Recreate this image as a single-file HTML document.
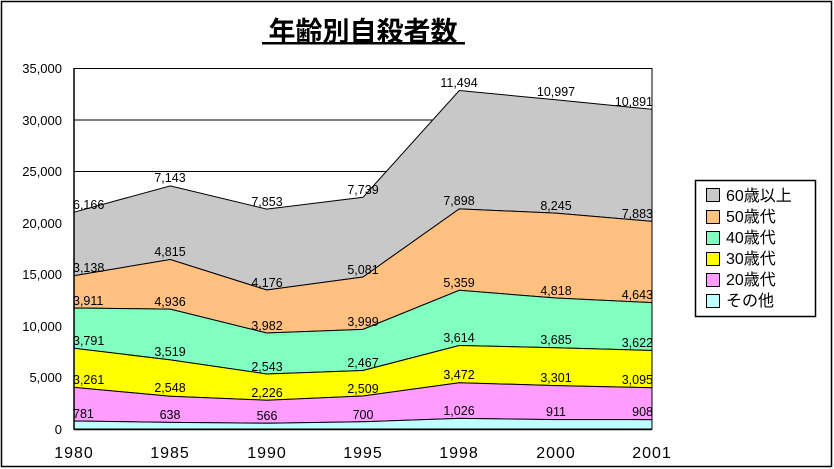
<!DOCTYPE html>
<html><head><meta charset="utf-8"><style>
body{margin:0;background:#fff}
svg{display:block}
text{font-family:"Liberation Sans","Noto Sans CJK JP",sans-serif}
</style></head><body>
<svg width="834" height="469" viewBox="0 0 834 469">
<rect x="1.5" y="1.5" width="830" height="465" fill="#fff" stroke="#000" stroke-width="1.5"/>
<text x="363" y="41" font-size="27" font-weight="bold" text-anchor="middle" font-family="'Noto Sans CJK JP',sans-serif">年齢別自殺者数</text>
<rect x="262" y="42" width="203" height="2.5" fill="#000"/>
<g stroke="#000" stroke-width="1">
<line x1="74" y1="68.5" x2="652" y2="68.5"/>
<line x1="74" y1="120" x2="652" y2="120"/>
<line x1="74" y1="171.5" x2="652" y2="171.5"/>
</g>
<g stroke="#000" stroke-width="1">
<polygon fill="#c8c8c8" points="74,212.2 170.3,185.9 266.7,209.1 363,197.3 459.3,90.5 555.7,99.8 652,109.3 652,221.4 555.7,213.1 459.3,208.9 363,277 266.7,290 170.3,259.5 74,275.7"/>
<polygon fill="#ffc080" points="74,275.7 170.3,259.5 266.7,290 363,277 459.3,208.9 555.7,213.1 652,221.4 652,302.6 555.7,298 459.3,290.3 363,329.4 266.7,333 170.3,309.1 74,308"/>
<polygon fill="#80ffc0" points="74,308 170.3,309.1 266.7,333 363,329.4 459.3,290.3 555.7,298 652,302.6 652,350.5 555.7,347.7 459.3,345.5 363,370.5 266.7,374 170.3,359.9 74,348.3"/>
<polygon fill="#ffff00" points="74,348.3 170.3,359.9 266.7,374 363,370.5 459.3,345.5 555.7,347.7 652,350.5 652,387.8 555.7,385.6 459.3,382.7 363,396 266.7,400.2 170.3,396.2 74,387.4"/>
<polygon fill="#ff9cff" points="74,387.4 170.3,396.2 266.7,400.2 363,396 459.3,382.7 555.7,385.6 652,387.8 652,419.7 555.7,419.6 459.3,418.4 363,421.8 266.7,423.2 170.3,422.4 74,421"/>
<polygon fill="#c0ffff" points="74,421 170.3,422.4 266.7,423.2 363,421.8 459.3,418.4 555.7,419.6 652,419.7 652,429 74,429"/>
</g>
<line x1="74" y1="68" x2="74" y2="429.5" stroke="#000" stroke-width="1.5"/>
<line x1="74" y1="429.5" x2="652" y2="429.5" stroke="#000" stroke-width="1.5"/>
<line x1="652" y1="68" x2="652" y2="429.5" stroke="#000" stroke-width="1"/>
<g font-size="13" text-anchor="end" fill="#000">
<text x="62" y="73">35,000</text><text x="62" y="125">30,000</text><text x="62" y="176">25,000</text>
<text x="62" y="228">20,000</text><text x="62" y="279">15,000</text><text x="62" y="331">10,000</text>
<text x="62" y="382">5,000</text><text x="62" y="434">0</text>
</g>
<g font-size="16" text-anchor="middle" letter-spacing="1">
<text x="74" y="458">1980</text><text x="170" y="458">1985</text><text x="267" y="458">1990</text>
<text x="363" y="458">1995</text><text x="459" y="458">1998</text><text x="556" y="458">2000</text><text x="652" y="458">2001</text>
</g>
<g font-size="12.5" fill="#000">
<g text-anchor="start">
<text x="73" y="209">6,166</text><text x="73" y="272">3,138</text><text x="73" y="305">3,911</text>
<text x="73" y="345">3,791</text><text x="73" y="384">3,261</text><text x="73" y="418">781</text>
</g>
<g text-anchor="middle">
<text x="170" y="182">7,143</text><text x="170" y="256">4,815</text><text x="170" y="306">4,936</text><text x="170" y="356">3,519</text><text x="170" y="392">2,548</text><text x="170" y="419">638</text>
<text x="267" y="206">7,853</text><text x="267" y="287">4,176</text><text x="267" y="330">3,982</text><text x="267" y="371">2,543</text><text x="267" y="397">2,226</text><text x="267" y="420">566</text>
<text x="363" y="194">7,739</text><text x="363" y="274">5,081</text><text x="363" y="326">3,999</text><text x="363" y="367">2,467</text><text x="363" y="393">2,509</text><text x="363" y="419">700</text>
<text x="459" y="87">11,494</text><text x="459" y="205">7,898</text><text x="459" y="287">5,359</text><text x="459" y="342">3,614</text><text x="459" y="379">3,472</text><text x="459" y="415">1,026</text>
<text x="556" y="96">10,997</text><text x="556" y="210">8,245</text><text x="556" y="295">4,818</text><text x="556" y="344">3,685</text><text x="556" y="382">3,301</text><text x="556" y="416">911</text>
</g>
<g text-anchor="end">
<text x="653" y="106">10,891</text><text x="653" y="218">7,883</text><text x="653" y="299">4,643</text><text x="653" y="347">3,622</text><text x="653" y="384">3,095</text><text x="653" y="416">908</text>
</g>
</g>
<rect x="695.5" y="180.5" width="120" height="136" fill="#fff" stroke="#000" stroke-width="1.5"/>
<g stroke="#000" stroke-width="1">
<rect x="706.5" y="188.5" width="13" height="13" fill="#c8c8c8"/>
<rect x="706.5" y="210.5" width="13" height="13" fill="#ffc080"/>
<rect x="706.5" y="231.5" width="13" height="13" fill="#80ffc0"/>
<rect x="706.5" y="252.5" width="13" height="13" fill="#ffff00"/>
<rect x="706.5" y="273.5" width="13" height="13" fill="#ff9cff"/>
<rect x="706.5" y="294.5" width="13" height="13" fill="#c0ffff"/>
</g>
<g font-size="16" fill="#000">
<text x="726" y="201">60歳以上</text><text x="726" y="222">50歳代</text><text x="726" y="243">40歳代</text>
<text x="726" y="264">30歳代</text><text x="726" y="285">20歳代</text><text x="726" y="306">その他</text>
</g>
</svg>
</body></html>
